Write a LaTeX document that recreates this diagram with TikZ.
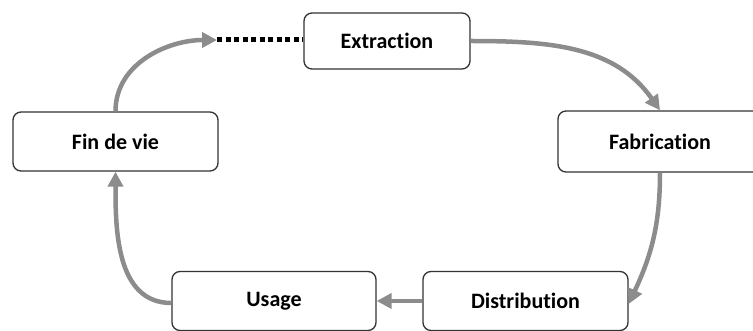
\documentclass[tikz,border=0pt]{standalone}
\usepackage{fontspec}
\setmainfont{Carlito}[Ligatures={NoCommon}]
\usetikzlibrary{arrows.meta}
\definecolor{flowgray}{HTML}{8C8C8C}
\definecolor{boxline}{HTML}{333333}
\begin{document}
\begin{tikzpicture}[x=1pt,y=-1pt,
  stage/.style={draw=boxline, line width=1.3pt, rounded corners=8pt, fill=white,
    inner sep=0pt, font=\fontsize{22}{26}\selectfont\bfseries},
  flow/.style={draw=flowgray, line width=4.5pt,
    -{Triangle[length=15pt,width=15pt]}},
  dots/.style={draw=black, line width=5pt, dash pattern=on 5pt off 3.5pt}
]
\useasboundingbox (0,0) rectangle (753,331);
\clip (0,0) rectangle (753,331);
\node[stage, minimum width=166pt, minimum height=56pt] (ext) at (387,41) {Extraction};
\node[stage, minimum width=204pt, minimum height=61pt] (fab) at (660,141.5) {Fabrication};
\node[stage, minimum width=205pt, minimum height=59pt] (dis) at (525.5,301) {Distribution};
\node[stage, minimum width=204pt, minimum height=59pt] (usa) at (274,301) {Usage};
\node[stage, minimum width=205pt, minimum height=59pt] (fin) at (115.5,141.5) {Fin de vie};
\coordinate (dotend) at (217,40);
\draw[flow] (ext.east) to[out=0,in=125] (fab.north);
\draw[flow] (fab.south) to[out=-90,in=65] ([yshift=-3pt]dis.east);
\draw[flow] (dis.west) -- (usa.east);
\draw[flow] ([yshift=-2pt]usa.west) to[out=180,in=-90] (fin.south);
\draw[flow] (fin.north) to[out=90,in=180] (dotend);
\draw[dots] (dotend) -- (ext.west |- dotend);
\end{tikzpicture}
\end{document}
